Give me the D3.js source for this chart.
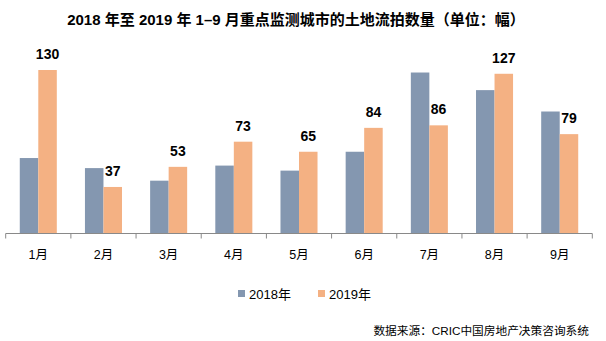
<!DOCTYPE html>
<html>
<head>
<meta charset="utf-8">
<script src="https://cdn.jsdelivr.net/npm/d3@7"></script>
<style>
    body { margin: 0; background: #fff; }
    svg { display: block; }
    text { font-family: "Liberation Sans", Arial, "Noto Sans CJK SC", sans-serif; fill: #000; }
</style>
</head>
<body>
<svg width="606" height="341"></svg>
<script>
// 月份与两年的流拍数量
var months = ["1月", "2月", "3月", "4月", "5月", "6月", "7月", "8月", "9月"];
var series = ["2018年", "2019年"];
var values2018 = [60, 52, 42, 54, 50, 65, 128, 114, 97];
var values2019 = [130, 37, 53, 73, 65, 84, 86, 127, 79];
var colors = ["#8497B0", "#F4B183"];

var svg = d3.select("svg");
var baseY = 233.5;

// 月份分组与组内两根柱子
var x0 = d3.scaleBand().domain(months).range([5.7, 592.3]);
var x1 = d3.scaleBand().domain(series).range([0, x0.bandwidth()]).paddingOuter(0.76);
var y = d3.scaleLinear().domain([0, 130]).range([baseY, 70]);

var data = months.map(function (m, i) {
    return { month: m, v: [values2018[i], values2019[i]] };
});

// 标题
svg.append("text")
    .attr("x", 296).attr("y", 25)
    .attr("text-anchor", "middle")
    .style("font-size", "15px").style("font-weight", "bold")
    .text("2018 年至 2019 年 1–9 月重点监测城市的土地流拍数量（单位：幅）");

// 柱子
var groups = svg.selectAll("g.month")
    .data(data)
    .enter()
    .append("g")
    .attr("class", "month")
    .attr("transform", function (d) { return "translate(" + x0(d.month) + ",0)"; });

groups.selectAll("rect")
    .data(function (d) { return d.v.map(function (v, j) { return { s: series[j], v: v, j: j }; }); })
    .enter()
    .append("rect")
    .attr("x", function (d) { return x1(d.s); })
    .attr("y", function (d) { return y(d.v); })
    .attr("width", x1.bandwidth())
    .attr("height", function (d) { return baseY - y(d.v); })
    .attr("fill", function (d) { return colors[d.j]; });

// 2019 年数值标签
groups.append("text")
    .attr("x", x1("2019年") + x1.bandwidth() / 2)
    .attr("y", function (d) { return y(d.v[1]) - 11; })
    .attr("text-anchor", "middle")
    .style("font-size", "14px").style("font-weight", "bold")
    .text(function (d) { return d.v[1]; });

// 横轴：底线与分组刻度
var axis = svg.append("g").attr("transform", "translate(0," + baseY + ")");
axis.append("line")
    .attr("x1", 5.7).attr("x2", 592.3)
    .attr("stroke", "#898989").attr("stroke-width", 1);
var edges = months.map(function (m) { return x0(m); }).concat([x0.range()[1]]);
axis.selectAll("line.tick")
    .data(edges)
    .enter()
    .append("line")
    .attr("class", "tick")
    .attr("x1", function (d) { return d; }).attr("x2", function (d) { return d; })
    .attr("y1", 0).attr("y2", 5)
    .attr("stroke", "#898989").attr("stroke-width", 1);
axis.selectAll("text")
    .data(months)
    .enter()
    .append("text")
    .attr("x", function (d) { return x0(d) + x0.bandwidth() / 2; })
    .attr("y", 25.5)
    .attr("text-anchor", "middle")
    .style("font-size", "12.5px")
    .text(function (d) { return d; });

// 图例
var legend = svg.append("g").attr("transform", "translate(238,294)");
var item = legend.selectAll("g")
    .data(series)
    .enter()
    .append("g")
    .attr("transform", function (d, i) { return "translate(" + (i * 80) + ",0)"; });
item.append("rect")
    .attr("x", 0).attr("y", -4).attr("width", 7).attr("height", 7)
    .attr("fill", function (d, i) { return colors[i]; });
item.append("text")
    .attr("x", 11).attr("y", 5)
    .style("font-size", "13px")
    .text(function (d) { return d; });

// 数据来源
svg.append("text")
    .attr("x", 589).attr("y", 335)
    .attr("text-anchor", "end")
    .style("font-size", "11.7px")
    .text("数据来源：CRIC中国房地产决策咨询系统");
</script>
</body>
</html>
